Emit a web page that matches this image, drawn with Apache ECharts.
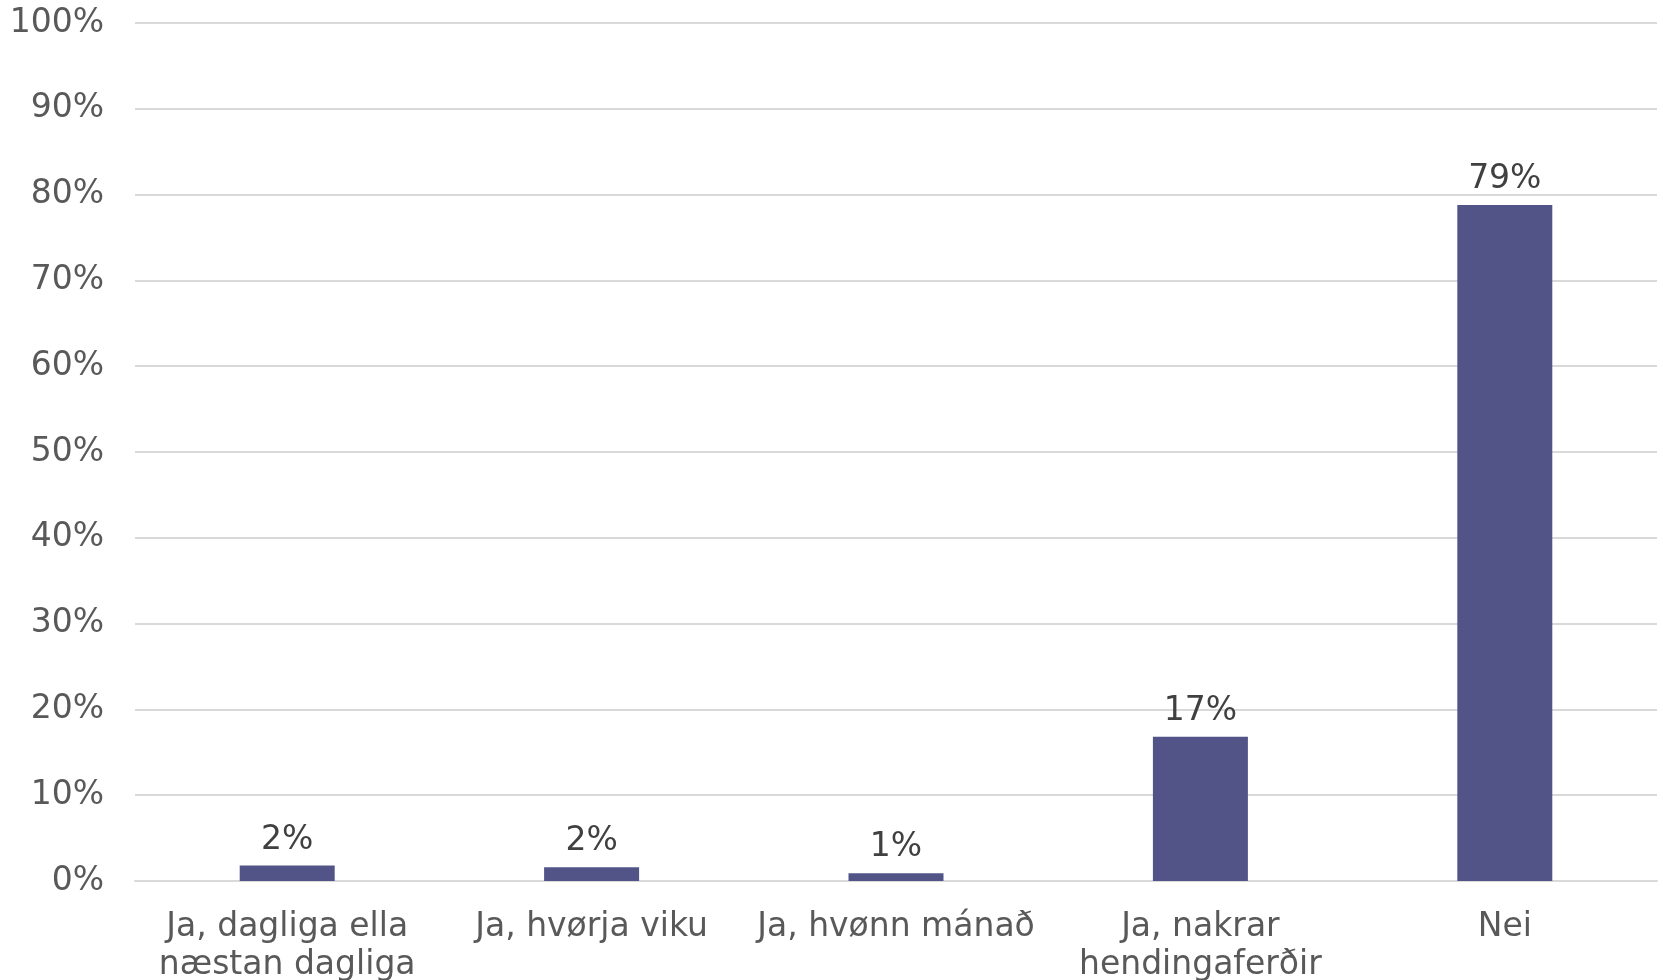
<!DOCTYPE html>
<html>
<head>
<meta charset="utf-8">
<script src="https://cdn.jsdelivr.net/npm/echarts@6/dist/echarts.min.js"></script>
<style>html,body{margin:0;padding:0;background:#fff;}#c{width:1663px;height:980px;}</style>
</head>
<body>
<div id="c"></div>
<script>
const categories = ["Ja, dagliga ella\nnæstan dagliga", "Ja, hvørja viku", "Ja, hvønn mánað", "Ja, nakrar\nhendingaferðir", "Nei"];
const values = [1.8, 1.6, 0.9, 16.8, 78.8];
const yMin = 0, yMax = 100, yStep = 10;

const chart = echarts.init(document.getElementById('c'));
chart.setOption({
  animation: false,
  textStyle: { fontFamily: 'DejaVu Sans' },
  grid: { left: 135, right: 6, top: 23, bottom: 99, containLabel: false, outerBoundsMode: 'none' },
  xAxis: {
    type: 'category',
    data: categories,
    axisLine: { show: true, lineStyle: { color: '#d9d9d9', width: 2 } },
    axisTick: { show: false },
    axisLabel: { color: '#595959', fontSize: 33, lineHeight: 38, margin: 27, interval: 0, fontFamily: 'DejaVu Sans' }
  },
  yAxis: {
    type: 'value',
    min: yMin, max: yMax, interval: yStep,
    axisLine: { show: false },
    axisTick: { show: false },
    splitLine: { lineStyle: { color: '#d9d9d9', width: 2 } },
    axisLabel: { color: '#595959', fontSize: 33, margin: 31, formatter: v => v + '%', fontFamily: 'DejaVu Sans' }
  },
  series: [{
    type: 'bar',
    data: values,
    barWidth: 95,
    itemStyle: { color: '#525488' },
    label: {
      show: true, position: 'top', distance: 9,
      color: '#404040', fontSize: 33, fontFamily: 'DejaVu Sans',
      formatter: p => Math.round(p.value) + '%'
    }
  }]
});
</script>
</body>
</html>
